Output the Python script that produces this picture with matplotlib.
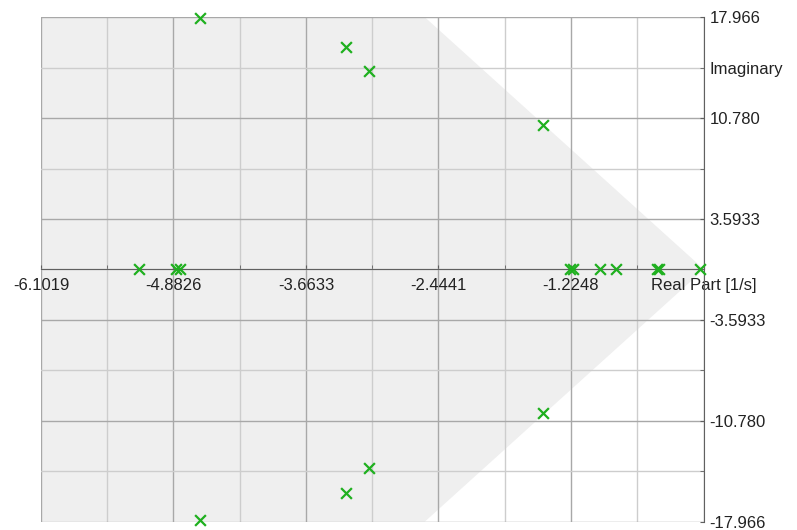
import matplotlib
matplotlib.use("Agg")
import matplotlib.pyplot as plt
import numpy as np

plt.rcParams['font.family'] = ['Liberation Sans', 'DejaVu Sans']

# Pole locations
pole_re = [-4.638, -4.638, -3.295, -3.295, -3.080, -3.080, -1.479, -1.479,
           -5.197, -4.860, -4.820, -1.230, -1.210, -0.957, -0.810, -0.430, -0.415, -0.037]
pole_im = [17.90, -17.85, 15.86, -15.90, 14.13, -14.13, 10.30, -10.25,
           0, 0, 0, 0, 0, 0, 0, 0, 0, 0]

x_major = [-6.1019, -4.8826, -3.6633, -2.4441, -1.2248, 0.0]
x_major_labels = ['-6.1019', '-4.8826', '-3.6633', '-2.4441', '-1.2248', 'Real Part [1/s]']
x_minor = [-5.4922, -4.2730, -3.0537, -1.8345, -0.6152]

y_major = [17.966, 10.780, 3.5933, -3.5933, -10.780, -17.966]
y_major_labels = ['17.966', '10.780', '3.5933', '-3.5933', '-10.780', '-17.966']
y_minor = [14.373, 7.1865, 0.0, -7.1865, -14.373]
y_minor_labels = ['Imaginary', '', '', '', '']

xmin, xmax = -6.1019, 0.0
ymin, ymax = -17.966, 17.966
sector_edge_re = -2.568  # real part where the damping line meets the top/bottom

fig = plt.figure(figsize=(7.97, 5.30), dpi=100)
top_px, bot_px = 17.3, 521.5
ax = fig.add_axes([41/797, 1-bot_px/530, (704-41)/797, (bot_px-top_px)/530])
ax.set_xlim(xmin, xmax)
ax.set_ylim(ymin, ymax)

# shaded damping sector
poly_x = [xmin, sector_edge_re, 0.0, sector_edge_re, xmin]
poly_y = [ymax, ymax, 0.0, ymin, ymin]
ax.fill(poly_x, poly_y, color='#efefef', zorder=0, lw=0)

ax.set_xticks(x_major)
ax.set_xticklabels(x_major_labels)
ax.set_xticks(x_minor, minor=True)
ax.set_yticks(y_major)
ax.set_yticklabels(y_major_labels)
ax.set_yticks(y_minor, minor=True)
ax.set_yticklabels(y_minor_labels, minor=True)

ax.grid(which='major', color='#a8a8a8', lw=1.0, zorder=1)
ax.grid(which='minor', color='#cdcdcd', lw=1.0, zorder=1)
ax.set_axisbelow(True)

for s in ['left', 'top']:
    ax.spines[s].set_visible(False)
ax.spines['bottom'].set_position(('data', 0))
ax.spines['bottom'].set_color('#606060')
ax.spines['right'].set_color('#606060')

ax.yaxis.tick_right()
ax.tick_params(axis='x', which='both', direction='in', length=3, color='#606060',
               labelsize=12, pad=6, labelcolor='#222222')
ax.tick_params(axis='y', which='both', direction='in', length=3, color='#606060',
               labelsize=12, pad=4, labelcolor='#222222', right=True, left=False,
               labelright=True, labelleft=False)

ax.scatter(pole_re, pole_im, marker='x', s=60, color='#1fb01f', linewidths=1.6,
           zorder=5, clip_on=False)

fig.savefig('out.png', dpi=100)
